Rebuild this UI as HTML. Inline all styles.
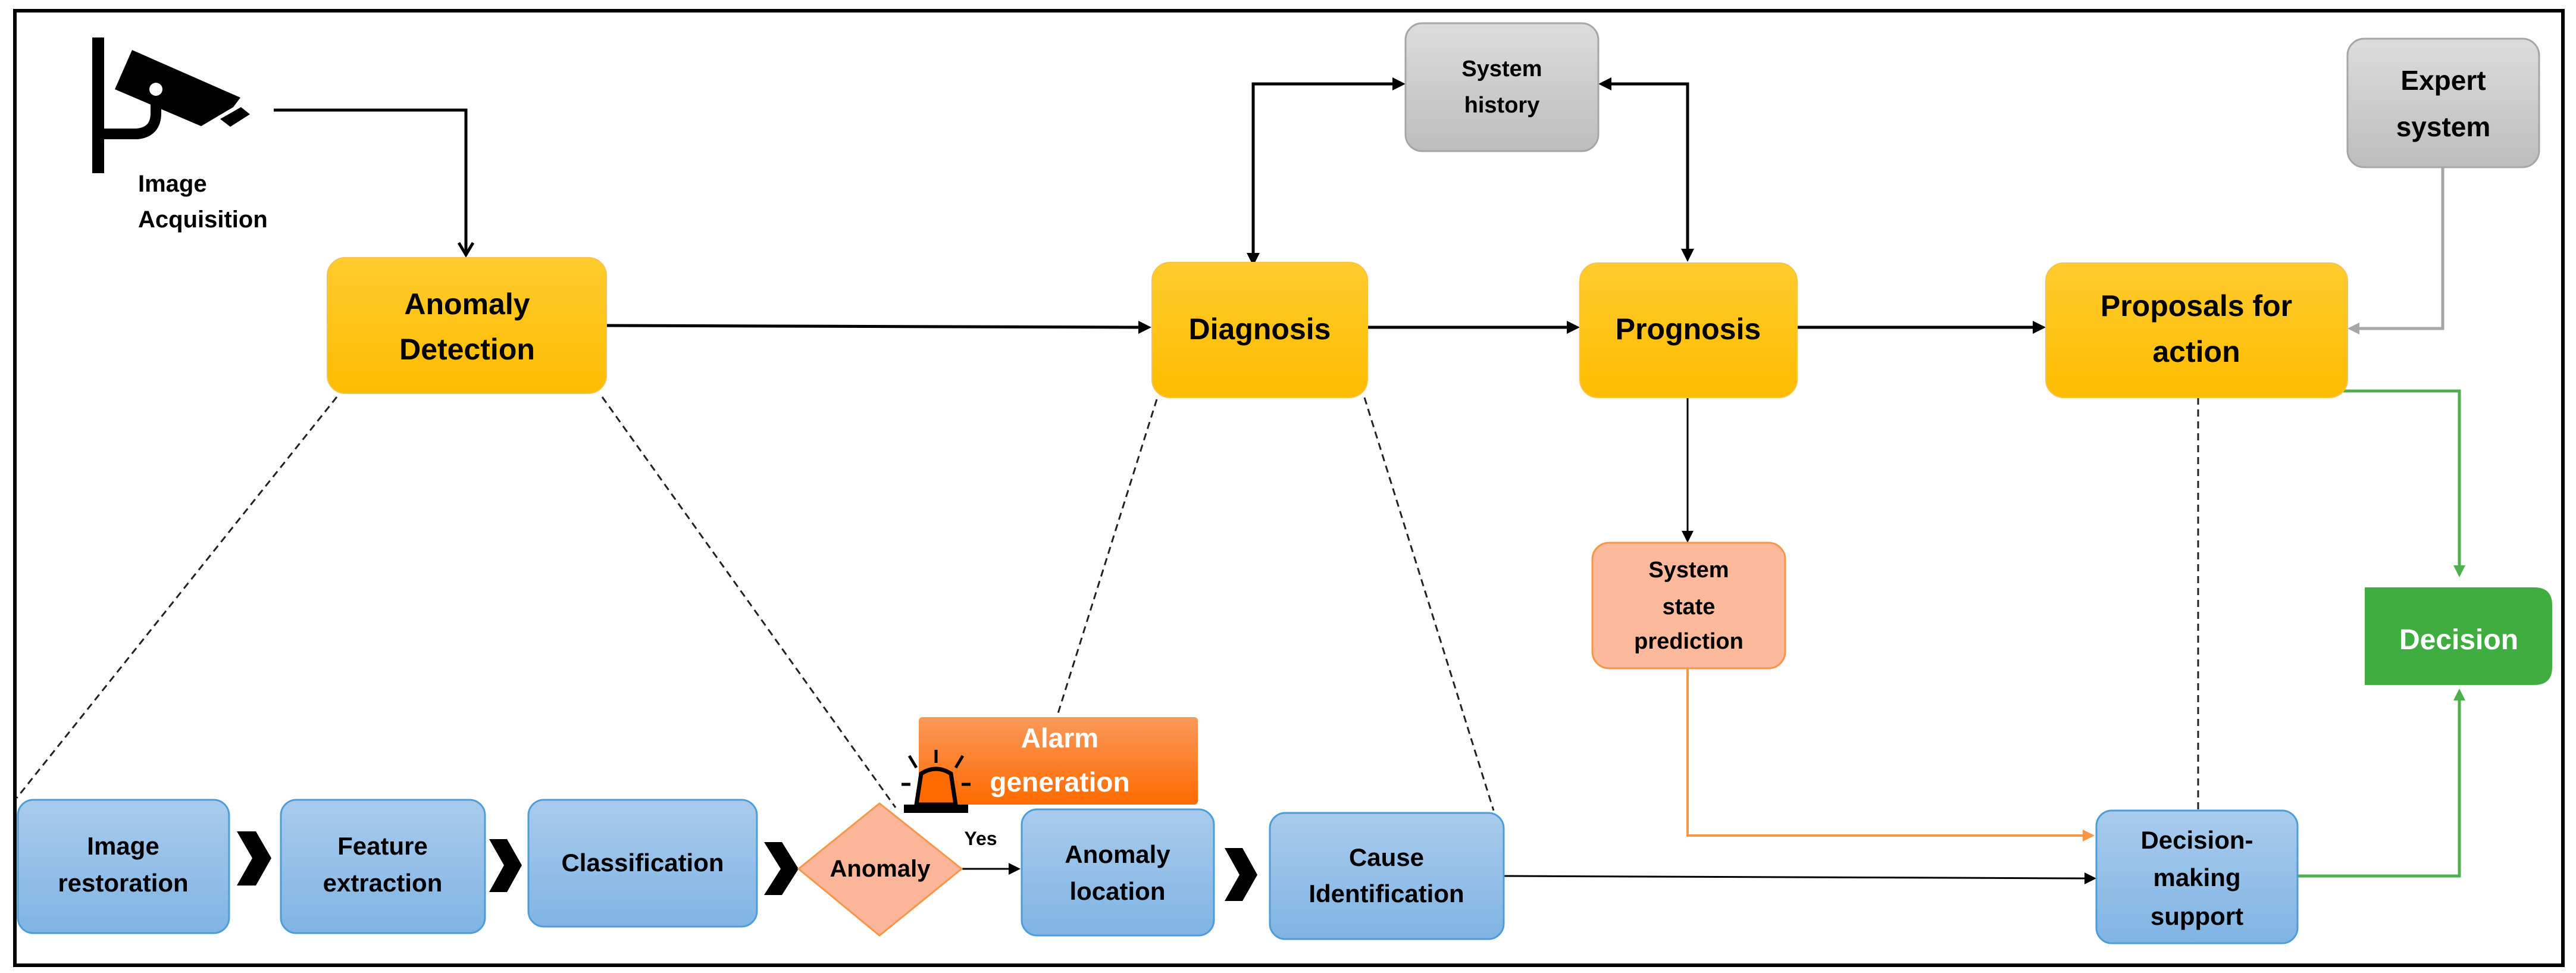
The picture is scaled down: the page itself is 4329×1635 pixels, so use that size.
<!DOCTYPE html>
<html><head><meta charset="utf-8"><style>
html,body{margin:0;padding:0;background:#fff;}
svg{display:block;}
text{font-family:"Liberation Sans",sans-serif;font-weight:bold;text-anchor:middle;}
</style></head><body>
<svg width="4329" height="1635" viewBox="0 0 4329 1635" xmlns="http://www.w3.org/2000/svg">
<defs>
<linearGradient id="yel" x1="0" y1="0" x2="0" y2="1"><stop offset="0" stop-color="#ffcb2e"/><stop offset="1" stop-color="#fdbc00"/></linearGradient>
<linearGradient id="blu" x1="0" y1="0" x2="0" y2="1"><stop offset="0" stop-color="#a9cbec"/><stop offset="1" stop-color="#80b4e4"/></linearGradient>
<linearGradient id="gry" x1="0" y1="0" x2="0" y2="1"><stop offset="0" stop-color="#dcdcdc"/><stop offset="1" stop-color="#bdbdbd"/></linearGradient>
<linearGradient id="org" x1="0" y1="0" x2="0" y2="1"><stop offset="0" stop-color="#f9995a"/><stop offset="1" stop-color="#ff6a00"/></linearGradient>
</defs>
<rect x="25" y="18" width="4282" height="1604" fill="none" stroke="#000" stroke-width="6"/>

<!-- camera -->
<rect x="155" y="63" width="20" height="228" fill="#000"/>
<path d="M175,225 L230,225 Q262,222 262,190 L262,165" fill="none" stroke="#000" stroke-width="18"/>
<polygon points="222,84 404,164 392,180 338,212 193,150" fill="#000"/>
<circle cx="262" cy="150" r="11" fill="#fff"/>
<polygon points="370,200 405,180 420,192 387,213" fill="#000"/>
<text x="232" y="322" style="text-anchor:start" font-size="40">Image</text>
<text x="232" y="382" style="text-anchor:start" font-size="40">Acquisition</text>

<g stroke="#000" stroke-width="5" fill="none">
<polyline points="460,185 783,185 783,425"/>
<polyline points="771,408 783,428 795,408"/>
<line x1="1019" y1="547" x2="1915" y2="550"/>
<polyline points="2106,445 2106,141 2345,141"/>
<polyline points="2700,141 2836,141 2836,420"/>
<line x1="2298" y1="550" x2="2636" y2="550"/>
<line x1="3020" y1="550" x2="3418" y2="550"/>
</g>
<g fill="#000">
<polygon points="1935,550 1913,539 1913,561"/>
<polygon points="2106,447 2095,425 2117,425"/>
<polygon points="2362,141 2340,130 2340,152"/>
<polygon points="2686,141 2708,130 2708,152"/>
<polygon points="2836,440 2825,418 2847,418"/>
<polygon points="2655,550 2633,539 2633,561"/>
<polygon points="3438,550 3416,539 3416,561"/>
</g>
<line x1="2836" y1="668" x2="2836" y2="895" stroke="#000" stroke-width="3"/>
<polygon points="2836,912 2826,892 2846,892" fill="#000"/>
<line x1="2527" y1="1472" x2="3505" y2="1476" stroke="#000" stroke-width="3"/>
<polygon points="3523,1476 3503,1466 3503,1486" fill="#000"/>
<line x1="1616" y1="1460" x2="1695" y2="1460" stroke="#000" stroke-width="3"/>
<polygon points="1715,1460 1695,1450 1695,1470" fill="#000"/>

<polyline points="4105,281 4105,552 3960,552" fill="none" stroke="#a6a6a6" stroke-width="5"/>
<polygon points="3945,552 3965,542 3965,562" fill="#a6a6a6"/>
<g stroke="#4cb04c" stroke-width="5" fill="none">
<polyline points="3935,657 4133,657 4133,952"/>
<polyline points="3861,1472 4133,1472 4133,1175"/>
</g>
<polygon points="4133,970 4123,950 4143,950" fill="#4cb04c"/>
<polygon points="4133,1157 4123,1177 4143,1177" fill="#4cb04c"/>
<polyline points="2836,1123 2836,1404 3500,1404" fill="none" stroke="#f79646" stroke-width="4"/>
<polygon points="3520,1404 3500,1394 3500,1414" fill="#f79646"/>

<g stroke="#222" stroke-width="3" stroke-dasharray="12,8" fill="none">
<line x1="566" y1="667" x2="28" y2="1341"/>
<line x1="1012" y1="667" x2="1505" y2="1357"/>
<line x1="1944" y1="671" x2="1776" y2="1205"/>
<line x1="2293" y1="668" x2="2510" y2="1362"/>
<line x1="3694" y1="668" x2="3694" y2="1362"/>
</g>

<g fill="url(#yel)" stroke="#f6c24a" stroke-width="2">
<rect x="550" y="433" width="469" height="228" rx="30"/>
<rect x="1936" y="441" width="362" height="227" rx="30"/>
<rect x="2655" y="442" width="365" height="226" rx="30"/>
<rect x="3438" y="442" width="507" height="226" rx="30"/>
</g>
<text x="785" y="528" font-size="50">Anomaly</text>
<text x="785" y="604" font-size="50">Detection</text>
<text x="2117" y="570" font-size="50">Diagnosis</text>
<text x="2837" y="570" font-size="50">Prognosis</text>
<text x="3691" y="531" font-size="50">Proposals for</text>
<text x="3691" y="608" font-size="50">action</text>

<g fill="url(#gry)" stroke="#a6a6a6" stroke-width="3">
<rect x="2362" y="39" width="324" height="215" rx="28"/>
<rect x="3945" y="65" width="322" height="216" rx="28"/>
</g>
<text x="2524" y="128" font-size="38">System</text>
<text x="2524" y="189" font-size="38">history</text>
<text x="4106" y="151" font-size="46">Expert</text>
<text x="4106" y="229" font-size="46">system</text>

<rect x="2676" y="912" width="324" height="211" rx="28" fill="#fdb99b" stroke="#f79646" stroke-width="3"/>
<text x="2838" y="970" font-size="38">System</text>
<text x="2838" y="1032" font-size="38">state</text>
<text x="2838" y="1090" font-size="38">prediction</text>

<path d="M3974,987 L4259,987 Q4289,987 4289,1017 L4289,1121 Q4289,1151 4259,1151 L3974,1151 z" fill="#40ad40"/>
<text x="4132" y="1091" font-size="48" fill="#fff">Decision</text>

<g fill="url(#blu)" stroke="#4d9ed8" stroke-width="3">
<rect x="30" y="1344" width="355" height="224" rx="26"/>
<rect x="472" y="1344" width="343" height="224" rx="26"/>
<rect x="888" y="1344" width="384" height="213" rx="26"/>
<rect x="1717" y="1360" width="323" height="212" rx="26"/>
<rect x="2134" y="1366" width="393" height="212" rx="26"/>
<rect x="3523" y="1362" width="338" height="223" rx="26"/>
</g>
<text x="207" y="1436" font-size="42">Image</text>
<text x="207" y="1498" font-size="42">restoration</text>
<text x="643" y="1436" font-size="42">Feature</text>
<text x="643" y="1498" font-size="42">extraction</text>
<text x="1080" y="1464" font-size="42">Classification</text>
<text x="1878" y="1450" font-size="42">Anomaly</text>
<text x="1878" y="1512" font-size="42">location</text>
<text x="2330" y="1455" font-size="42">Cause</text>
<text x="2330" y="1516" font-size="42">Identification</text>
<text x="3692" y="1426" font-size="42">Decision-</text>
<text x="3692" y="1489" font-size="42">making</text>
<text x="3692" y="1554" font-size="42">support</text>

<g fill="#000">
<polygon points="398,1397 430,1397 456,1442 430,1488 398,1488 424,1442"/>
<polygon points="822,1410 852,1410 877,1454 852,1499 822,1499 847,1454"/>
<polygon points="1284,1415 1314,1415 1342,1460 1314,1504 1284,1504 1312,1460"/>
<polygon points="2058,1425 2088,1425 2113,1470 2088,1514 2058,1514 2083,1470"/>
</g>

<polygon points="1478,1350 1616,1460 1478,1572 1342,1460" fill="#fbb69a" stroke="#f79646" stroke-width="3"/>
<text x="1479" y="1473" font-size="40">Anomaly</text>
<text x="1648" y="1420" font-size="32" font-weight="normal">Yes</text>

<rect x="1544" y="1205" width="469" height="147" rx="6" fill="url(#org)"/>
<text x="1781" y="1256" font-size="46" fill="#fff" font-weight="normal">Alarm</text>
<text x="1781" y="1330" font-size="46" fill="#fff" font-weight="normal">generation</text>
<g>
<rect x="1519" y="1352" width="108" height="14" fill="#000"/>
<path d="M1540,1352 L1548,1300 Q1573,1284 1598,1300 L1606,1352 z" fill="#ff6a00" stroke="#000" stroke-width="7"/>
<line x1="1573" y1="1260" x2="1573" y2="1282" stroke="#000" stroke-width="5"/>
<line x1="1528" y1="1270" x2="1540" y2="1290" stroke="#000" stroke-width="5"/>
<line x1="1618" y1="1270" x2="1606" y2="1290" stroke="#000" stroke-width="5"/>
<line x1="1515" y1="1318" x2="1530" y2="1318" stroke="#000" stroke-width="5"/>
<line x1="1616" y1="1318" x2="1631" y2="1318" stroke="#000" stroke-width="5"/>
</g>
</svg>
</body></html>
